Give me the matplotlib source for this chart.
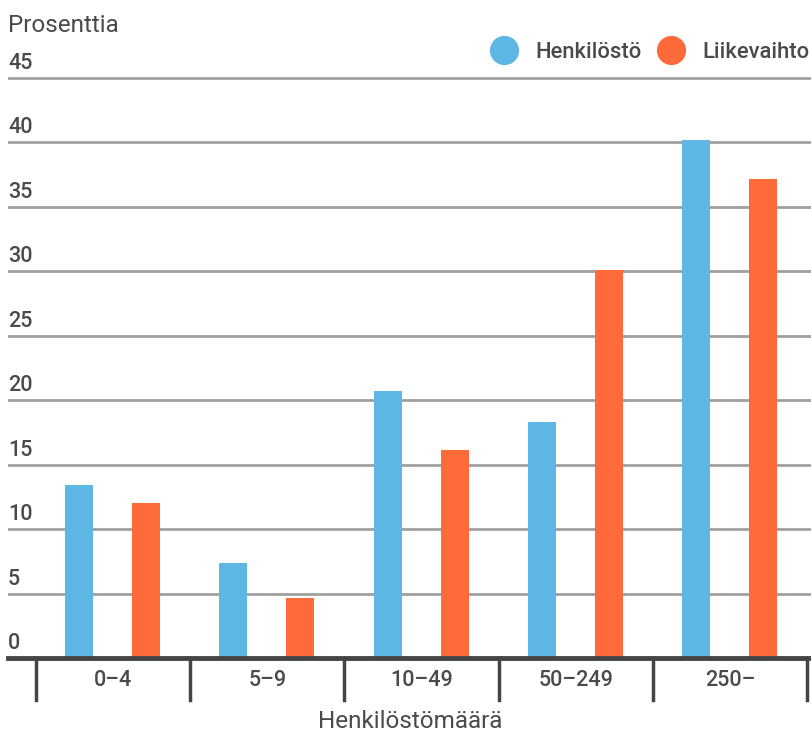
import matplotlib
matplotlib.use("Agg")
import matplotlib.pyplot as plt
import matplotlib.transforms as mtransforms
from matplotlib.lines import Line2D
import numpy as np

plt.rcParams["font.family"] = ["Roboto", "DejaVu Sans"]

categories = ["0–4", "5–9", "10–49", "50–249", "250–"]
henkilosto = [13.4, 7.4, 20.7, 18.3, 40.2]
liikevaihto = [12.0, 4.65, 16.1, 30.1, 37.2]
series_names = ["Henkilöstö", "Liikevaihto"]
y_ticks = [0, 5, 10, 15, 20, 25, 30, 35, 40, 45]

BLUE = "#5eb6e4"
ORANGE = "#ff6a3a"
TEXT = "#4a4a4a"
GRID = "#a0a0a0"

W, H = 811, 734
fig = plt.figure(figsize=(W / 100, H / 100), dpi=100)

ymax = 46
px_per_unit = (658 - 78) / 45
ax_bottom = (H - 658) / H
ax_height = ymax * px_per_unit / H
ax = fig.add_axes([8 / W, ax_bottom, 1 - 8 / W, ax_height])

x = np.arange(len(categories))
cat_px = 154.2
width = 28 / cat_px
ax.bar(x - 0.22, henkilosto, width, color=BLUE, zorder=3)
ax.bar(x + 0.215, liikevaihto, width, color=ORANGE, zorder=3)

ax.set_xlim(-0.5 - 28 / cat_px, len(categories) - 0.5 + 4 / cat_px)
ax.set_ylim(0, ymax)

for s in ax.spines.values():
    s.set_visible(False)
ax.set_xticks([])
ax.set_yticks([])

# gridlines and y labels sitting above them
offset = mtransforms.ScaledTranslation(0, 4 / 100, fig.dpi_scale_trans)
trans = mtransforms.blended_transform_factory(ax.transAxes, ax.transData)
for v in y_ticks:
    if v > 0:
        ax.axhline(v, color=GRID, lw=2, zorder=1)
    ax.text(0, v, str(v), transform=trans + offset, ha="left", va="bottom",
            fontsize=15.5, color=TEXT, fontweight="medium")
ax.axhline(0, color="#454545", lw=3.5, zorder=4, clip_on=False)

# category separators and labels
for b in np.arange(len(categories) + 1) - 0.5:
    ax.plot([b, b], [0, -42 / px_per_unit], color="#454545", lw=2.5,
            clip_on=False, zorder=4)
for i, c in enumerate(categories):
    ax.text(i, -22 / px_per_unit, c, ha="center", va="center",
            fontsize=15.5, color=TEXT, fontweight="medium")

fig.text(410 / W, 1 - 721 / H, "Henkilöstömäärä", ha="center", va="center",
         fontsize=17.5, color=TEXT)
fig.text(8 / W, 1 - 25 / H, "Prosenttia", ha="left", va="center",
         fontsize=17.5, color=TEXT)

handles = [Line2D([], [], marker="o", ls="", ms=20, color=c) for c in (BLUE, ORANGE)]
leg = fig.legend(handles, series_names, loc="center right",
                 bbox_to_anchor=(1.0 - 1 / W, 1 - 52 / H), ncol=2, frameon=False,
                 fontsize=15.8, handletextpad=0.8, columnspacing=0.7,
                 handlelength=1.27, borderaxespad=0, borderpad=0)
for t in leg.get_texts():
    t.set_color(TEXT)
    t.set_fontweight("medium")

fig.savefig("out.png", dpi=100)
